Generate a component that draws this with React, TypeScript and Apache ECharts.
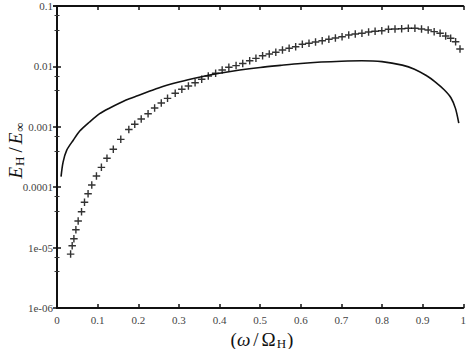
import React, { useEffect, useRef } from "react";
import * as echarts from "echarts";

// Solid curve (continuous line)
const solidX = [0.01, 0.015, 0.024, 0.04, 0.056, 0.08, 0.105, 0.13, 0.17, 0.2, 0.25, 0.3, 0.35, 0.4, 0.45, 0.5, 0.55, 0.6, 0.65, 0.7, 0.75, 0.8, 0.85, 0.88, 0.91, 0.93, 0.953, 0.97, 0.981, 0.989];
const solidY = [1.5e-4, 2.6e-4, 4.1e-4, 6.0e-4, 8.5e-4, 1.2e-3, 1.65e-3, 2.05e-3, 2.78e-3, 3.3e-3, 4.4e-3, 5.5e-3, 6.6e-3, 7.7e-3, 8.7e-3, 9.6e-3, 1.04e-2, 1.12e-2, 1.18e-2, 1.22e-2, 1.24e-2, 1.2e-2, 1.05e-2, 9.0e-3, 7.0e-3, 5.6e-3, 4.1e-3, 3.0e-3, 2.0e-3, 1.15e-3];

// "+" markers
const crossX = [0.0335, 0.0374, 0.0416, 0.0465, 0.0521, 0.0604, 0.0677, 0.0765, 0.0856, 0.0971, 0.1093, 0.123, 0.1386, 0.157, 0.1768, 0.1914, 0.2073, 0.2242, 0.2403, 0.2567, 0.2721, 0.291, 0.3073, 0.3235, 0.3399, 0.3562, 0.3724, 0.3905, 0.4066, 0.423, 0.4408, 0.4572, 0.4743, 0.4897, 0.5061, 0.5225, 0.5386, 0.555, 0.5714, 0.5875, 0.6039, 0.6203, 0.6364, 0.6528, 0.6692, 0.6853, 0.7017, 0.7181, 0.7342, 0.7506, 0.767, 0.783, 0.7995, 0.8159, 0.832, 0.8484, 0.8648, 0.881, 0.8973, 0.9137, 0.9284, 0.943, 0.9567, 0.969, 0.9812, 0.992];
const crossY = [7.8e-6, 1.07e-5, 1.4e-5, 1.98e-5, 2.75e-5, 3.93e-5, 5.62e-5, 7.8e-5, 1.09e-4, 1.53e-4, 2.13e-4, 3.01e-4, 4.24e-4, 6.2e-4, 9.0e-4, 1.1e-3, 1.35e-3, 1.64e-3, 2.05e-3, 2.48e-3, 2.96e-3, 3.59e-3, 4.18e-3, 4.73e-3, 5.37e-3, 6.11e-3, 6.94e-3, 7.69e-3, 8.71e-3, 9.66e-3, 1.03e-2, 1.12e-2, 1.24e-2, 1.36e-2, 1.5e-2, 1.6e-2, 1.71e-2, 1.87e-2, 2.0e-2, 2.12e-2, 2.32e-2, 2.41e-2, 2.54e-2, 2.66e-2, 2.81e-2, 2.95e-2, 3.1e-2, 3.31e-2, 3.44e-2, 3.53e-2, 3.71e-2, 3.81e-2, 3.9e-2, 4.12e-2, 4.16e-2, 4.21e-2, 4.28e-2, 4.28e-2, 4.16e-2, 4.01e-2, 3.76e-2, 3.53e-2, 3.19e-2, 2.92e-2, 2.56e-2, 1.94e-2];

const xTickLabels = ["0", "0.1", "0.2", "0.3", "0.4", "0.5", "0.6", "0.7", "0.8", "0.9", "1"];
const yTickLabels = ["0.1", "0.01", "0.001", "0.0001", "1e-05", "1e-06"];

const SERIF = "'Liberation Serif', 'DejaVu Serif', serif";
const PLUS = "path://M3.25,0H4.75V3.25H8V4.75H4.75V8H3.25V4.75H0V3.25H3.25Z";

const richMath = {
  m: { fontFamily: SERIF, fontSize: 19, lineHeight: 19, verticalAlign: "top", fill: "#111" },
  sl: { fontFamily: SERIF, fontSize: 19, lineHeight: 19, verticalAlign: "top", padding: [0, 3, 0, 3], fill: "#111" },
  mi: { fontFamily: SERIF, fontSize: 19, fontStyle: "italic", lineHeight: 19, verticalAlign: "top", fill: "#111" },
  s: { fontFamily: SERIF, fontSize: 13, lineHeight: 12, padding: [7, 1, 0, 1], verticalAlign: "top", fill: "#111" },
};

export default function App() {
  const ref = useRef<HTMLDivElement>(null);
  useEffect(() => {
    if (!ref.current) return;
    const chart = echarts.init(ref.current, null, { renderer: "svg" });
    const axisLine = { show: true, lineStyle: { color: "#111", width: 2 } };
    const axisTick = { show: true, inside: true, length: 4, lineStyle: { color: "#111", width: 1.5 } };
    const minorTick = { show: true, splitNumber: 3, length: 2.5, lineStyle: { color: "#333", width: 1 } };
    const xLabel = {
      show: true,
      margin: 6,
      fontFamily: SERIF,
      fontSize: 11,
      color: "#444",
      formatter: (v: number) => xTickLabels[Math.round(v * 10)] ?? "",
    };
    const yLabel = {
      show: true,
      margin: 4,
      fontFamily: SERIF,
      fontSize: 11,
      color: "#444",
      formatter: (v: number) => yTickLabels[Math.round(-Math.log10(v)) - 1] ?? "",
    };
    chart.setOption({
      animation: false,
      backgroundColor: "#fff",
      grid: { left: 57, right: 4, top: 6, bottom: 41, containLabel: false },
      xAxis: [
        { type: "value", min: 0, max: 1, interval: 0.1, position: "bottom", axisLine, axisTick, axisLabel: xLabel, splitLine: { show: false } },
        { type: "value", min: 0, max: 1, interval: 0.1, position: "top", axisLine, axisTick, axisLabel: { show: false }, splitLine: { show: false } },
      ],
      yAxis: [
        { type: "log", logBase: 10, min: 1e-6, max: 0.1, position: "left", axisLine, axisTick, minorTick, axisLabel: yLabel, splitLine: { show: false }, minorSplitLine: { show: false } },
        { type: "log", logBase: 10, min: 1e-6, max: 0.1, position: "right", axisLine, axisTick, minorTick, axisLabel: { show: false }, splitLine: { show: false }, minorSplitLine: { show: false } },
      ],
      series: [
        {
          type: "line",
          xAxisIndex: 0,
          yAxisIndex: 0,
          data: solidX.map((x, i) => [x, solidY[i]]),
          showSymbol: false,
          smooth: 0.3,
          lineStyle: { color: "#111", width: 1.6 },
        },
        {
          type: "scatter",
          xAxisIndex: 0,
          yAxisIndex: 0,
          data: crossX.map((x, i) => [x, crossY[i]]),
          symbol: PLUS,
          symbolSize: 7.5,
          itemStyle: { color: "#000" },
        },
      ],
      graphic: [
        {
          type: "text",
          x: 15,
          y: 150,
          rotation: Math.PI / 2,
          style: {
            text: "{mi|E}{s|H}{sl|/}{mi|E}{s|∞}",
            rich: richMath,
            align: "center",
            verticalAlign: "middle",
          },
        },
        {
          type: "text",
          x: 262,
          y: 339,
          style: {
            text: "{m|(}{mi|ω}{sl|/}{m|Ω}{s|H}{m|)}",
            rich: richMath,
            align: "center",
            verticalAlign: "middle",
          },
        },
      ],
    });
    return () => chart.dispose();
  }, []);
  return (
    <div
      ref={ref}
      style={{ position: "fixed", left: 0, top: 0, width: 469, height: 349, background: "#fff" }}
    />
  );
}
